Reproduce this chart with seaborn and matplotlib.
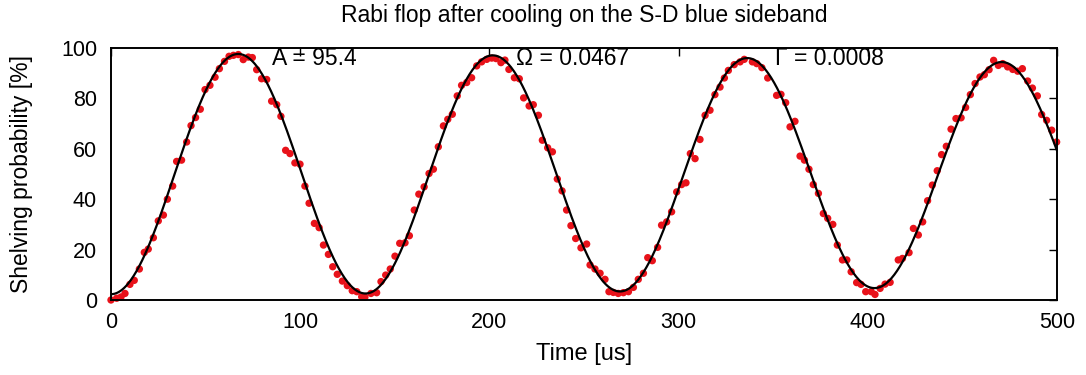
import numpy as np
import pandas as pd
import matplotlib
matplotlib.use("Agg")
import matplotlib.pyplot as plt
import seaborn as sns

# Measured shelving probability after each excitation time
time_us = [
    0.0, 3.0, 5.3, 7.4, 10.0, 12.3, 15.0, 17.6, 19.7, 22.4, 25.0, 27.7, 29.8,
    32.6, 34.7, 37.3, 40.0, 42.3, 44.7, 47.2, 49.7, 52.3, 55.0, 57.3, 60.0,
    62.4, 64.7, 67.3, 69.9, 72.6, 74.7, 77.0, 79.6,
    82.3, 84.9, 87.6, 89.8, 92.3, 94.6, 97.2, 99.9, 102.5, 104.7, 107.5, 110.0,
    112.3, 114.9, 117.2, 119.6, 122.3, 124.9, 127.5, 129.9, 132.5, 134.2, 137.4,
    140.4, 142.7, 145.2, 147.6, 150.1, 152.6, 155.4, 157.7, 160.3, 162.7, 165.5,
    168.1, 170.4, 173.0, 175.7, 178.0, 180.4, 183.0, 185.3, 188.0, 190.6, 193.3,
    195.9, 198.6, 201.2, 203.5, 206.1, 208.2, 210.3, 213.2, 215.8, 218.1, 221.0,
    223.2, 225.9, 228.0, 230.8, 233.3, 235.9, 238.4, 240.8, 243.1, 245.6, 248.4,
    251.4, 253.2, 255.8, 258.5, 261.1, 263.2, 265.5, 268.1, 270.8, 273.5, 276.1,
    278.7, 281.4, 283.7, 286.1, 288.9, 291.0, 293.7, 296.3, 299.0, 301.6, 303.9,
    306.2, 308.7, 311.3, 314.0, 316.6, 319.2, 321.9, 324.2, 326.3, 329.4, 332.5,
    334.7,
    339.0, 341.3, 344.0, 347.1, 351.8, 354.1, 356.6, 358.9, 361.5, 364.2, 366.5,
    368.9, 371.2, 373.9, 376.5, 378.8, 381.5, 383.9, 386.6, 388.9, 391.2, 394.1,
    396.4, 398.9, 401.8, 403.8, 406.5, 409.1, 411.8, 416.1, 418.3,
    421.8, 424.1, 426.7, 429.0, 431.6, 434.1, 436.7, 439.0, 441.5, 444.0, 446.6,
    449.3, 451.7, 454.2, 456.7, 459.3, 461.6, 464.1, 466.5, 469.0, 471.3, 473.9,
    476.6, 479.2, 481.7, 484.5, 487.0, 489.6, 491.9, 494.5, 497.2, 499.8,
]
shelving_pct = [
    0.0, 0.7, 1.2, 2.6, 6.2, 7.8, 12.3, 18.9, 20.2, 24.7, 31.4, 33.7, 40.0,
    45.2, 55.0, 55.5, 62.7, 69.2, 72.4, 75.7, 83.5, 85.2, 88.4, 91.8, 94.7,
    96.7, 97.1, 97.4, 95.4, 96.4, 96.2, 91.4, 87.8,
    87.5, 78.9, 77.5, 72.9, 59.4, 58.1, 54.4, 53.9, 45.2, 38.4, 30.4, 28.7,
    21.8, 18.1, 13.2, 10.2, 7.5, 5.7, 3.7, 3.3, 1.3, 1.1, 2.6,
    2.9, 7.3, 9.9, 12.3, 17.4, 22.5, 22.7, 25.5, 35.7, 42.0, 44.9,
    50.2, 51.9, 60.8, 69.1, 71.7, 73.7, 81.0, 85.2, 86.3, 88.2, 92.9,
    94.5, 95.5, 96.0, 95.8, 94.2, 95.2, 91.5, 88.2, 87.8, 80.2, 77.0,
    77.5, 73.3, 63.4, 60.4, 58.8, 48.0, 43.3, 35.7, 29.5, 24.4, 20.7,
    22.2, 13.9, 12.3, 10.6, 8.2, 3.3, 3.0, 2.6, 2.9, 3.3, 5.0,
    8.2, 10.6, 16.8, 15.6, 20.9, 29.7, 31.0, 35.0, 42.9, 45.8, 46.5,
    58.1, 56.1, 63.7, 73.3, 75.3, 81.5, 84.5, 88.1, 91.1, 93.4, 94.5,
    95.5,
    94.5, 93.8, 92.2, 88.1, 81.2, 81.6, 78.3, 68.7, 70.9, 57.1, 55.5,
    51.9, 45.8, 42.3, 34.3, 32.4, 30.0, 21.8, 15.9, 15.9, 11.2, 6.9,
    6.2, 3.3, 3.3, 2.2, 4.6, 6.3, 7.0, 15.9, 16.5,
    18.8, 28.4, 25.8, 31.0, 39.4, 45.6, 51.3, 57.7, 61.0, 67.8, 72.0,
    72.3, 76.4, 81.5, 85.9, 88.5, 89.4, 91.4, 95.1, 93.1, 93.8, 92.5,
    91.5, 90.8, 91.8, 86.9, 84.1, 81.0, 73.6, 71.3, 67.4, 62.7,
]
assert len(time_us) == len(shelving_pct)

# Fit parameters of the damped Rabi oscillation
fit_A = 95.4        # contrast [%]
fit_Omega = 0.0467  # Rabi frequency [rad/us]
fit_Gamma = 0.0008  # dephasing rate [1/us]
fit_offset = 2.3    # background [%]

param_labels = ["A = 95.4", "\u03a9 = 0.0467", "\u0393 = 0.0008"]
param_label_t = [85, 214, 351]

data = pd.DataFrame({"t": time_us, "p": shelving_pct})
t_fit = np.linspace(0, 500, 1001)
p_fit = fit_offset + fit_A / 2 * (
    1 - np.exp(-(fit_Gamma * t_fit) ** 2 / 2) * np.cos(fit_Omega * t_fit)
)
fit = pd.DataFrame({"t": t_fit, "p": p_fit})

sns.set_style("white")
plt.rcParams["font.family"] = ["Liberation Sans", "DejaVu Sans"]
plt.rcParams["text.color"] = "black"
plt.rcParams["axes.labelcolor"] = "black"

fig = plt.figure(figsize=(10.86, 3.75), dpi=100)
ax = fig.add_axes([0.1022, 0.2, 0.8711, 0.672])

sns.lineplot(data=fit, x="t", y="p", ax=ax, color="black", linewidth=1.6,
             zorder=3)
sns.scatterplot(data=data, x="t", y="p", ax=ax, color="#e8121a", s=28,
                edgecolor="none", linewidth=0, zorder=2, clip_on=False)

ax.set_xlim(0, 500)
ax.set_ylim(0, 100)
ax.set_xticks([0, 100, 200, 300, 400, 500])
ax.set_yticks([0, 20, 40, 60, 80, 100])
ax.tick_params(direction="in", length=6, width=1.0, top=True, right=True,
               labelsize=15.5, colors="black")
ax.tick_params(axis="x", pad=9)
ax.tick_params(axis="y", pad=10)
for s in ax.spines.values():
    s.set_color("black")
    s.set_linewidth(1.4)

ax.set_xlabel("Time [us]", fontsize=17, labelpad=7)
ax.set_ylabel("Shelving probability [%]", fontsize=16.5, labelpad=20)
ax.set_title("Rabi flop after cooling on the S-D blue sideband",
             fontsize=16.5, pad=19)

for lab, tx in zip(param_labels, param_label_t):
    ax.text(tx, 96, lab, fontsize=16.5, ha="left", va="center", zorder=4)

fig.savefig("out.png", dpi=100, facecolor="white")
